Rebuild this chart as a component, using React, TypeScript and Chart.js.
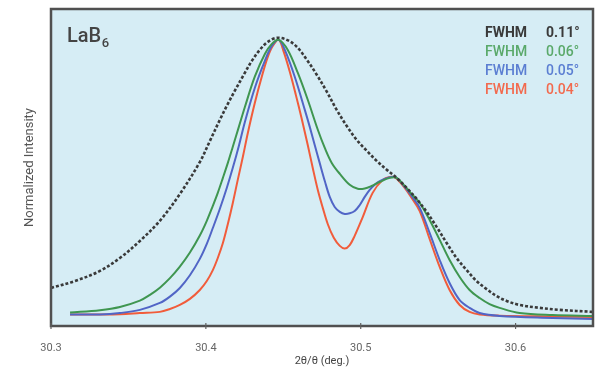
import React, { useEffect, useRef } from 'react';
import { Chart, registerables } from 'chart.js';

Chart.register(...registerables);

const FONT = 'Roboto, "Open Sans", "DejaVu Sans", sans-serif';

// axis
const xTicks = [30.3, 30.4, 30.5, 30.6];
const xTickLabels = ['30.3', '30.4', '30.5', '30.6'];
const xTitle = '2θ/θ (deg.)';
const yTitle = 'Normalized Intensity';
const panelLabel = 'LaB';
const panelSub = '6';

// legend
const legendNames = ['FWHM', 'FWHM', 'FWHM', 'FWHM'];
const fwhmValues = ['0.11°', '0.06°', '0.05°', '0.04°'];

// FWHM 0.11° (black dashed)
const blackX = [30.300, 30.3155, 30.3316, 30.3445, 30.3574, 30.3703, 30.3832, 30.3961, 30.4026, 30.4090, 30.4142, 30.4194, 30.4245, 30.4297, 30.4348, 30.4400, 30.4458, 30.4523, 30.4587, 30.4652, 30.4716, 30.4781, 30.4845, 30.4910, 30.4974, 30.5039, 30.5103, 30.5168, 30.5232, 30.5297, 30.5361, 30.5426, 30.5490, 30.5555, 30.5619, 30.5684, 30.5748, 30.5813, 30.5877, 30.5942, 30.6026, 30.6155, 30.6284, 30.6500];
const blackY = [0.132, 0.156, 0.191, 0.236, 0.295, 0.365, 0.458, 0.569, 0.642, 0.715, 0.771, 0.823, 0.872, 0.920, 0.958, 0.986, 1.000, 0.993, 0.969, 0.924, 0.872, 0.813, 0.750, 0.694, 0.646, 0.608, 0.573, 0.542, 0.514, 0.479, 0.441, 0.396, 0.344, 0.288, 0.236, 0.194, 0.156, 0.128, 0.104, 0.087, 0.073, 0.063, 0.056, 0.049];

// FWHM 0.06° (green)
const greenX = [30.3123, 30.3316, 30.3445, 30.3574, 30.3639, 30.3703, 30.3768, 30.3832, 30.3897, 30.3961, 30.4006, 30.4045, 30.4077, 30.4110, 30.4142, 30.4174, 30.4213, 30.4252, 30.4316, 30.4381, 30.4426, 30.4471, 30.4529, 30.4594, 30.4658, 30.4723, 30.4768, 30.4813, 30.4865, 30.4929, 30.4981, 30.5026, 30.5071, 30.5123, 30.5187, 30.5232, 30.5284, 30.5329, 30.5381, 30.5445, 30.5510, 30.5574, 30.5639, 30.5703, 30.5768, 30.5832, 30.5897, 30.6026, 30.6239, 30.6500];
const greenY = [0.047, 0.055, 0.066, 0.088, 0.108, 0.133, 0.166, 0.206, 0.255, 0.314, 0.365, 0.417, 0.462, 0.514, 0.566, 0.622, 0.691, 0.760, 0.865, 0.944, 0.979, 0.993, 0.958, 0.878, 0.785, 0.681, 0.618, 0.566, 0.528, 0.490, 0.476, 0.477, 0.486, 0.500, 0.514, 0.514, 0.486, 0.458, 0.427, 0.368, 0.299, 0.229, 0.170, 0.125, 0.097, 0.076, 0.063, 0.045, 0.038, 0.035];

// FWHM 0.05° (blue)
const blueX = [30.3123, 30.3316, 30.3445, 30.3574, 30.3703, 30.3768, 30.3832, 30.3897, 30.3961, 30.4006, 30.4045, 30.4090, 30.4135, 30.4174, 30.4213, 30.4252, 30.4316, 30.4381, 30.4426, 30.4471, 30.4510, 30.4574, 30.4639, 30.4671, 30.4703, 30.4735, 30.4768, 30.4800, 30.4832, 30.4865, 30.4897, 30.4929, 30.4961, 30.4994, 30.5026, 30.5058, 30.5090, 30.5123, 30.5174, 30.5226, 30.5284, 30.5329, 30.5381, 30.5445, 30.5510, 30.5574, 30.5639, 30.5703, 30.5768, 30.5897, 30.6239, 30.6500];
const blueY = [0.040, 0.040, 0.045, 0.056, 0.080, 0.102, 0.132, 0.176, 0.233, 0.285, 0.340, 0.406, 0.479, 0.549, 0.625, 0.708, 0.826, 0.920, 0.972, 0.993, 0.958, 0.865, 0.750, 0.691, 0.628, 0.566, 0.503, 0.448, 0.413, 0.396, 0.389, 0.391, 0.399, 0.420, 0.448, 0.472, 0.490, 0.503, 0.514, 0.516, 0.483, 0.451, 0.410, 0.323, 0.229, 0.149, 0.090, 0.063, 0.045, 0.035, 0.028, 0.024];

// FWHM 0.04° (red)
const redX = [30.3123, 30.3316, 30.3445, 30.3574, 30.3703, 30.3768, 30.3832, 30.3897, 30.3961, 30.4006, 30.4045, 30.4077, 30.4110, 30.4142, 30.4174, 30.4206, 30.4239, 30.4271, 30.4316, 30.4361, 30.4400, 30.4432, 30.4471, 30.4503, 30.4542, 30.4581, 30.4619, 30.4658, 30.4690, 30.4723, 30.4755, 30.4787, 30.4826, 30.4865, 30.4897, 30.4929, 30.4961, 30.5013, 30.5077, 30.5142, 30.5187, 30.5226, 30.5284, 30.5329, 30.5381, 30.5445, 30.5510, 30.5574, 30.5639, 30.5703, 30.5768, 30.5897, 30.6239, 30.6500];
const redY = [0.040, 0.040, 0.041, 0.045, 0.049, 0.059, 0.073, 0.094, 0.125, 0.156, 0.194, 0.236, 0.288, 0.354, 0.427, 0.507, 0.587, 0.670, 0.774, 0.865, 0.934, 0.972, 0.993, 0.951, 0.882, 0.802, 0.719, 0.628, 0.549, 0.472, 0.410, 0.354, 0.306, 0.278, 0.269, 0.281, 0.313, 0.378, 0.462, 0.507, 0.517, 0.514, 0.479, 0.444, 0.399, 0.302, 0.205, 0.125, 0.073, 0.049, 0.040, 0.036, 0.033, 0.031];

const lineColors = ['#3a3a3a', '#3f9650', '#5165c6', '#f15c3b'];
const legendColors = ['#3a3a3a', '#5aa96a', '#5b7ed2', '#f26a4e'];

const pts = (xs: number[], ys: number[]) => xs.map((x, i) => ({ x, y: ys[i] }));

const panelPlugin = {
  id: 'panelPlugin',
  beforeDraw(chart: any) {
    const { ctx, chartArea: a } = chart;
    ctx.save();
    ctx.fillStyle = '#ffffff';
    ctx.fillRect(0, 0, chart.width, chart.height);
    ctx.fillStyle = '#d6edf5';
    ctx.fillRect(a.left, a.top, a.right - a.left, a.bottom - a.top);
    ctx.restore();
  },
  afterDatasetsDraw(chart: any) {
    const { ctx, chartArea: a } = chart;
    const xs = chart.scales.x;
    ctx.save();
    // frame
    ctx.strokeStyle = '#505050';
    ctx.lineWidth = 2.5;
    ctx.strokeRect(a.left, a.top, a.right - a.left, a.bottom - a.top);
    // tick marks crossing the bottom axis
    ctx.lineWidth = 1.2;
    ctx.strokeStyle = '#606060';
    xs.ticks.forEach((t: any) => {
      const px = xs.getPixelForValue(t.value);
      ctx.beginPath();
      ctx.moveTo(px, a.bottom - 3);
      ctx.lineTo(px, a.bottom + 3);
      ctx.stroke();
    });
    // panel label
    ctx.fillStyle = '#444444';
    ctx.textBaseline = 'alphabetic';
    ctx.textAlign = 'left';
    ctx.font = `500 20px ${FONT}`;
    const lx = a.left + 16;
    ctx.fillText(panelLabel, lx, 42);
    const w = ctx.measureText(panelLabel).width;
    ctx.font = `500 13px ${FONT}`;
    ctx.fillText(panelSub, lx + w + 0.5, 47);
    // legend
    legendNames.forEach((name, i) => {
      ctx.fillStyle = legendColors[i];
      ctx.font = `${i === 0 ? 700 : 500} 14px ${FONT}`;
      const y = 37 + 19 * i;
      ctx.fillText(name, 485, y);
      ctx.fillText(fwhmValues[i], 546, y);
    });
    ctx.restore();
  },
};

export default function App() {
  const ref = useRef<HTMLCanvasElement | null>(null);
  useEffect(() => {
    if (!ref.current) return;
    const mk = (xs: number[], ys: number[], i: number, dash: number[] = [], width = 2) => ({
      data: pts(xs, ys),
      borderColor: lineColors[i],
      borderWidth: width,
      borderDash: dash,
      fill: false,
      pointRadius: 0,
      tension: 0.35,
    });
    const chart = new Chart(ref.current, {
      type: 'line',
      data: {
        datasets: [
          mk(blackX, blackY, 0, [3, 2], 2.6),
          mk(greenX, greenY, 1),
          mk(blueX, blueY, 2),
          mk(redX, redY, 3),
        ],
      },
      options: {
        animation: false,
        responsive: false,
        layout: { padding: { top: 9, right: 8, left: 0, bottom: 0 } },
        plugins: { legend: { display: false }, tooltip: { enabled: false } },
        scales: {
          x: {
            type: 'linear',
            min: 30.3,
            max: 30.65,
            grid: { display: false },
            border: { display: false },
            afterBuildTicks: (s: any) => {
              s.ticks = xTicks.map((v) => ({ value: v }));
            },
            afterFit: (s: any) => {
              s.height = 43;
            },
            ticks: {
              autoSkip: false,
              maxRotation: 0,
              padding: 8,
              color: '#666666',
              font: { size: 11, family: FONT },
              callback: (_v: any, i: number) => xTickLabels[i],
            },
            title: {
              display: true,
              text: xTitle,
              color: '#444444',
              font: { size: 11, family: FONT },
              padding: { top: 0, bottom: 1 },
            },
          },
          y: {
            min: 0,
            max: 1.1,
            grid: { display: false },
            border: { display: false },
            ticks: { display: false },
            afterFit: (s: any) => {
              s.width = 51;
            },
            title: {
              display: true,
              text: yTitle,
              color: '#555555',
              font: { size: 13, family: FONT },
              padding: { top: 22, bottom: 0 },
            },
          },
        },
      },
      plugins: [panelPlugin],
    });
    return () => chart.destroy();
  }, []);
  return (
    <div style={{ position: 'absolute', left: 0, top: 0, width: 601, height: 369 }}>
      <canvas ref={ref} width={601} height={369} style={{ display: 'block' }} />
    </div>
  );
}
